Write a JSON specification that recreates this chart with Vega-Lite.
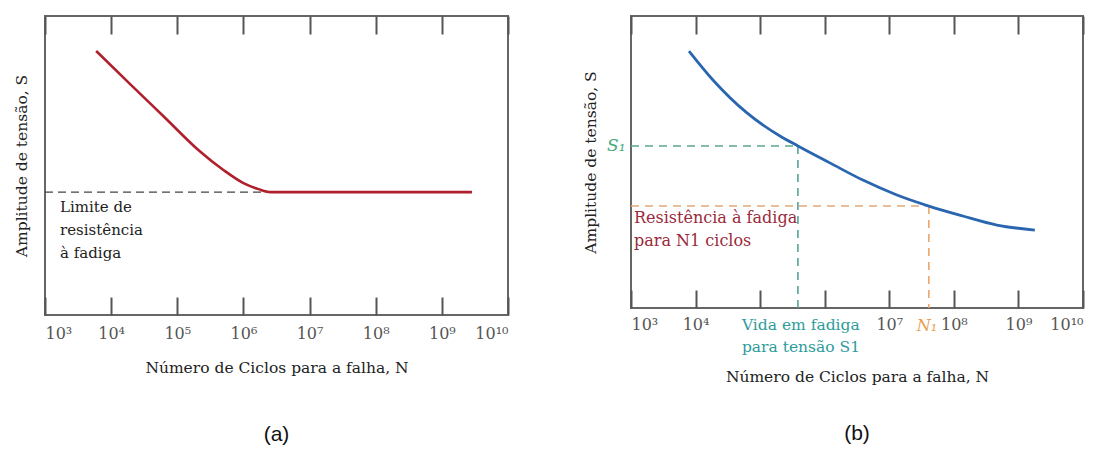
{
  "$schema": "https://vega.github.io/schema/vega-lite/v6.json",
  "padding": {"left": 13, "top": 14, "right": 5, "bottom": 5},
  "spacing": 72,
  "background": "white",
  "config": {
    "view": {"stroke": "#666666", "strokeWidth": 2},
    "font": "DejaVu Serif",
    "axis": {"grid": false, "domain": false, "labelFont": "DejaVu Serif", "titleFont": "DejaVu Serif", "labelColor": "#555555", "titleColor": "#222222", "titleFontWeight": "normal", "tickColor": "#555555", "tickWidth": 2}
  },
  "datasets": {
    "curveA": [
      {"N": 5929, "S": 88.3}, {"N": 20090, "S": 76.9}, {"N": 65770, "S": 65.9}, {"N": 207970, "S": 55.2},
      {"N": 497700, "S": 48.5}, {"N": 1000000, "S": 44.1}, {"N": 1687000, "S": 42.1}, {"N": 2564000, "S": 41.1},
      {"N": 2851000000, "S": 41.1}
    ],
    "curveB": [
      {"N": 7907, "S": 88.0}, {"N": 18578, "S": 78.1}, {"N": 62520, "S": 66.8}, {"N": 202800, "S": 58.9},
      {"N": 384600, "S": 55.5}, {"N": 1202000, "S": 49.7}, {"N": 3899000, "S": 43.8}, {"N": 13120000, "S": 38.7},
      {"N": 41020000, "S": 34.9}, {"N": 137700000, "S": 31.5}, {"N": 463400000, "S": 28.4}, {"N": 1795000000, "S": 26.7}
    ]
  },
  "hconcat": [
    {
      "width": 463,
      "height": 299,
      "title": {"text": "(a)", "orient": "bottom", "font": "Liberation Sans", "fontSize": 21, "fontWeight": "normal", "color": "#111111", "offset": 48},
      "resolve": {"axis": {"x": "independent"}},
      "layer": [
        {
          "data": {"values": [{"N": 1000, "N2": 2564000, "S": 41.1}]},
          "mark": {"type": "rule", "strokeDash": [8, 5], "color": "#444444", "strokeWidth": 1.3},
          "encoding": {
            "x": {"field": "N", "type": "quantitative", "scale": {"type": "log", "domain": [1000, 10000000000]},
              "axis": {"orient": "top", "values": [1000, 10000, 100000, 1000000, 10000000, 100000000, 1000000000, 10000000000], "labels": false, "tickSize": -18, "title": null}},
            "x2": {"field": "N2"},
            "y": {"field": "S", "type": "quantitative", "scale": {"domain": [0, 100]},
              "axis": {"title": "Amplitude de tensão, S", "labels": false, "ticks": false, "titleFontSize": 15.5, "titlePadding": 16}}
          }
        },
        {
          "data": {"name": "curveA"},
          "mark": {"type": "line", "color": "#b0202c", "strokeWidth": 2.6, "interpolate": "monotone"},
          "encoding": {
            "x": {"field": "N", "type": "quantitative",
              "axis": {"orient": "bottom", "values": [1000, 10000, 100000, 1000000, 10000000, 100000000, 1000000000, 10000000000], "tickSize": -18, "labelPadding": 28, "labelFontSize": 16,
                "labelExpr": "['10³','10⁴','10⁵','10⁶','10⁷','10⁸','10⁹','10¹⁰'][round(log(datum.value)/LN10)-3]",
                "title": "Número de Ciclos para a falha, N", "titleFontSize": 15.5, "titlePadding": 19}},
            "y": {"field": "S", "type": "quantitative"}
          }
        },
        {
          "data": {"values": [{"N": 1687, "S": 38.6, "label": "Limite de\nresistência\nà fadiga"}]},
          "mark": {"type": "text", "align": "left", "baseline": "top", "lineBreak": "\n", "fontSize": 15, "lineHeight": 23, "color": "#222222", "font": "DejaVu Serif"},
          "encoding": {
            "x": {"field": "N", "type": "quantitative", "axis": null},
            "y": {"field": "S", "type": "quantitative"},
            "text": {"field": "label"}
          }
        }
      ]
    },
    {
      "width": 452,
      "height": 292,
      "title": {"text": "(b)", "orient": "bottom", "font": "Liberation Sans", "fontSize": 21, "fontWeight": "normal", "color": "#111111", "offset": 38},
      "resolve": {"axis": {"x": "independent"}},
      "layer": [
        {
          "data": {"values": [{"N": 1000, "N2": 384600, "S": 55.5}]},
          "mark": {"type": "rule", "strokeDash": [8, 6], "color": "#5aa88a", "strokeWidth": 1.5},
          "encoding": {
            "x": {"field": "N", "type": "quantitative", "scale": {"type": "log", "domain": [1000, 10000000000]},
              "axis": {"orient": "top", "values": [1000, 10000, 100000, 1000000, 10000000, 100000000, 1000000000, 10000000000], "labels": false, "tickSize": -18, "title": null}},
            "x2": {"field": "N2"},
            "y": {"field": "S", "type": "quantitative", "scale": {"domain": [0, 100]},
              "axis": {"title": "Amplitude de tensão, S", "values": [55.5], "labelExpr": "'S₁'", "ticks": false, "labelColor": "#4aa880", "labelFontStyle": "italic", "labelFontSize": 17, "labelPadding": 6, "titleFontSize": 15.5, "titlePadding": 8}}
          }
        },
        {
          "data": {"values": [{"N": 384600, "S": 55.5, "S2": 0}]},
          "mark": {"type": "rule", "strokeDash": [8, 6], "color": "#4a9e94", "strokeWidth": 1.5},
          "encoding": {
            "x": {"field": "N", "type": "quantitative", "axis": null},
            "y": {"field": "S", "type": "quantitative"},
            "y2": {"field": "S2"}
          }
        },
        {
          "data": {"values": [{"N": 1000, "N2": 41020000, "S": 34.9}]},
          "mark": {"type": "rule", "strokeDash": [8, 6], "color": "#e2aa78", "strokeWidth": 1.5},
          "encoding": {
            "x": {"field": "N", "type": "quantitative", "axis": null},
            "x2": {"field": "N2"},
            "y": {"field": "S", "type": "quantitative"}
          }
        },
        {
          "data": {"values": [{"N": 41020000, "S": 34.9, "S2": 0}]},
          "mark": {"type": "rule", "strokeDash": [8, 6], "color": "#e8a060", "strokeWidth": 1.5},
          "encoding": {
            "x": {"field": "N", "type": "quantitative", "axis": null},
            "y": {"field": "S", "type": "quantitative"},
            "y2": {"field": "S2"}
          }
        },
        {
          "data": {"name": "curveB"},
          "mark": {"type": "line", "color": "#2a66b0", "strokeWidth": 2.8, "interpolate": "monotone"},
          "encoding": {
            "x": {"field": "N", "type": "quantitative",
              "axis": {"orient": "bottom", "values": [1000, 10000, 100000, 1000000, 10000000, 100000000, 1000000000, 10000000000], "tickSize": -18, "labelPadding": 26, "labelFontSize": 16,
                "labelExpr": "['10³','10⁴','','','10⁷','10⁸','10⁹','10¹⁰'][round(log(datum.value)/LN10)-3]",
                "title": "Número de Ciclos para a falha, N", "titleFontSize": 15.5, "titlePadding": 37}},
            "y": {"field": "S", "type": "quantitative"}
          }
        },
        {
          "data": {"values": [{"N": 1112, "S": 33.6, "label": "Resistência à fadiga\npara N1 ciclos"}]},
          "mark": {"type": "text", "align": "left", "baseline": "top", "lineBreak": "\n", "fontSize": 16, "lineHeight": 23, "color": "#9a2a3a", "font": "DejaVu Serif"},
          "encoding": {
            "x": {"field": "N", "type": "quantitative", "axis": null},
            "y": {"field": "S", "type": "quantitative"},
            "text": {"field": "label"}
          }
        },
        {
          "data": {"values": [{"N": 52240, "S": -3.3, "label": "Vida em fadiga\npara tensão S1"}]},
          "mark": {"type": "text", "align": "left", "baseline": "top", "lineBreak": "\n", "fontSize": 15.5, "lineHeight": 22, "color": "#2e9c9a", "font": "DejaVu Serif", "clip": false},
          "encoding": {
            "x": {"field": "N", "type": "quantitative", "axis": null},
            "y": {"field": "S", "type": "quantitative"},
            "text": {"field": "label"}
          }
        },
        {
          "data": {"values": [{"N": 38200000, "S": -6.2, "label": "N₁"}]},
          "mark": {"type": "text", "align": "center", "baseline": "middle", "fontSize": 16, "fontStyle": "italic", "color": "#e8a050", "font": "DejaVu Serif", "clip": false},
          "encoding": {
            "x": {"field": "N", "type": "quantitative", "axis": null},
            "y": {"field": "S", "type": "quantitative"},
            "text": {"field": "label"}
          }
        }
      ]
    }
  ]
}
